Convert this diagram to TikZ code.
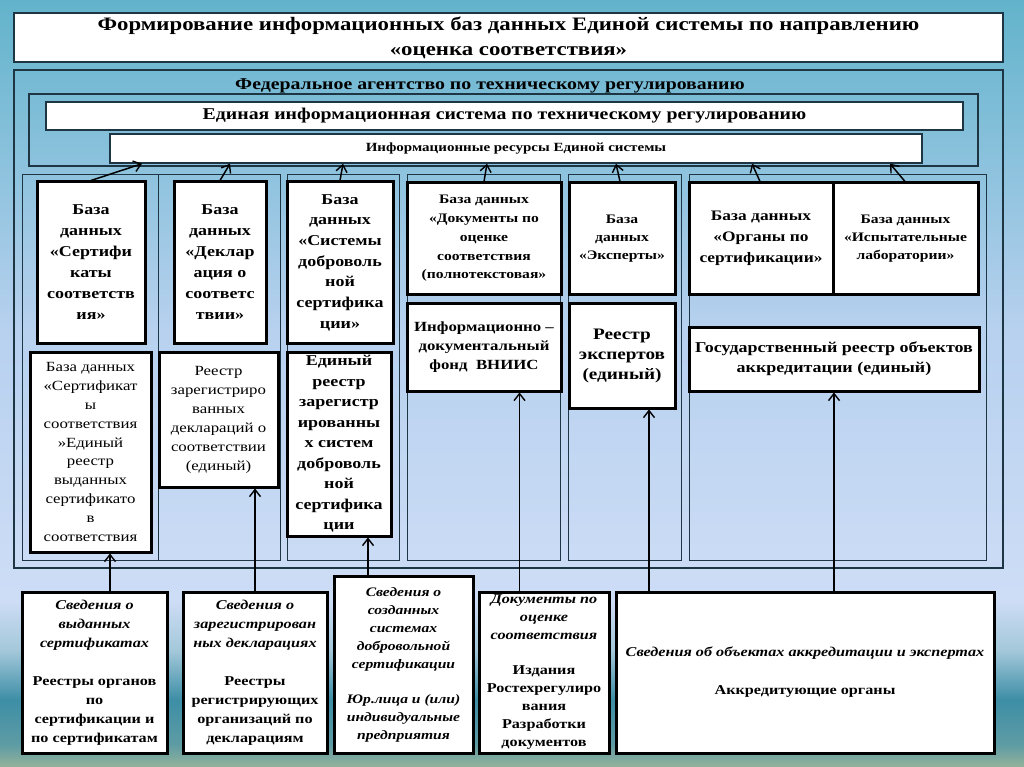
\documentclass[tikz,border=0pt]{standalone}
\usepackage{fontspec}
\setmainfont{Liberation Serif}[FakeStretch=1.2]
\usetikzlibrary{arrows.meta}
\definecolor{framecol}{HTML}{1E3544}
\definecolor{bgA}{HTML}{62B3CB}
\definecolor{bgB}{HTML}{B7D1EF}
\definecolor{bgC}{HTML}{CEDDF6}
\definecolor{bgD}{HTML}{A4C8DA}
\definecolor{bgE}{HTML}{3D8EA6}
\definecolor{bgF}{HTML}{5F9CA4}
\definecolor{bgG}{HTML}{93B39A}
\newcommand\fsz[2]{\fontsize{#1}{#2}\selectfont}
\tikzset{
  tbox/.style={draw=black, line width=3pt, fill=white, align=center, inner sep=0pt, font=\bfseries},
  wbox/.style={draw=framecol, line width=1.4pt, fill=white, align=center, inner sep=0pt, font=\bfseries},
  frame/.style={draw=framecol, line width=1.3pt},
  cframe/.style={draw=framecol, line width=1pt},
  arr/.style={line width=1.5pt, -{Straight Barb[length=7pt,width=11pt,line width=1.4pt]}},
}
\begin{document}
\begin{tikzpicture}[x=1pt,y=-1pt]
\useasboundingbox (0,0) rectangle (1024,767);
% background
\shade[top color=bgA, bottom color=bgB] (0,0) rectangle (1024,330);
\shade[top color=bgB, bottom color=bgC] (0,330) rectangle (1024,600);
\shade[top color=bgC, bottom color=bgD] (0,600) rectangle (1024,650);
\shade[top color=bgD, bottom color=bgE] (0,650) rectangle (1024,700);
\shade[top color=bgE, bottom color=bgF] (0,700) rectangle (1024,745);
\shade[top color=bgF, bottom color=bgG] (0,745) rectangle (1024,767);

% title
\node[wbox, minimum width=989pt, minimum height=49pt, font=\bfseries\fsz{19}{25}] (title) at (508.5,37.5)
  {Формирование информационных баз данных Единой системы по направлению\\«оценка соответствия»};

% frames
\draw[frame] (14,70) rectangle (1003,568);
\node[font=\bfseries\fsz{16.5}{18}] (fed) at (490,86) {Федеральное агентство по техническому регулированию};
\draw[frame] (29,94) rectangle (978,166);
\node[wbox, minimum width=917pt, minimum height=28pt, font=\bfseries\fsz{16.5}{18}] (eis) at (504.5,116)
  {Единая информационная система по техническому регулированию};
\node[wbox, minimum width=812pt, minimum height=29pt, font=\bfseries\fsz{12.5}{14}] (ir) at (516,148.5)
  {Информационные ресурсы Единой системы};

\draw[cframe] (22,175) rectangle (158,560);
\draw[cframe] (158,175) rectangle (280,560);
\draw[cframe] (287,175) rectangle (399,560);
\draw[cframe] (407,175) rectangle (560,560);
\draw[cframe] (568,175) rectangle (681,560);
\draw[cframe] (689,175) rectangle (986,560);

% row 1
\node[tbox, minimum width=108pt, minimum height=161pt, font=\bfseries\fsz{15}{21}] (b1) at (91,262.5)
  {База\\данных\\«Сертифи\\каты\\соответств\\ия»};
\node[tbox, minimum width=92pt, minimum height=161pt, font=\bfseries\fsz{15}{21}] (b2) at (220,262.5)
  {База\\данных\\«Деклар\\ация о\\соответс\\твии»};
\node[tbox, minimum width=106pt, minimum height=161pt, font=\bfseries\fsz{15}{20.7}] (b3) at (340,262.5)
  {База\\данных\\«Системы\\доброволь\\ной\\сертифика\\ции»};
\node[tbox, minimum width=154pt, minimum height=111pt, font=\bfseries\fsz{13}{18.7}] (b4) at (484,238.5)
  {База данных\\«Документы по\\оценке\\соответствия\\(полнотекстовая»};
\node[tbox, minimum width=106pt, minimum height=111pt, font=\bfseries\fsz{13}{18.3}] (b5) at (622,238.5)
  {База\\данных\\«Эксперты»};
\node[tbox, minimum width=144pt, minimum height=111pt, font=\bfseries\fsz{14.5}{21}] (b6) at (761,238.5)
  {База данных\\«Органы по\\сертификации»};
\node[tbox, minimum width=145pt, minimum height=111pt, font=\bfseries\fsz{13}{18.3}] (b7) at (905.5,238.5)
  {База данных\\«Испытательные\\лаборатории»};

% row 2
\node[tbox, minimum width=121pt, minimum height=200pt, font=\mdseries\fsz{14}{18.9}] (c1) at (90.5,452)
  {База данных\\«Сертификат\\ы\\соответствия\\»Единый\\реестр\\выданных\\сертификато\\в\\соответствия};
\node[tbox, minimum width=119pt, minimum height=135pt, font=\mdseries\fsz{14}{19}] (c2) at (218.5,419.5)
  {Реестр\\зарегистриро\\ванных\\деклараций о\\соответствии\\(единый)};
\node[tbox, minimum width=104pt, minimum height=184pt, font=\bfseries\fsz{15}{20.5}] (c3) at (339,444)
  {Единый\\реестр\\зарегистр\\ированны\\х систем\\доброволь\\ной\\сертифика\\ции};
\node[tbox, minimum width=154pt, minimum height=88pt, font=\bfseries\fsz{14}{19}] (c4) at (484,347)
  {Информационно –\\документальный\\фонд~~ВНИИС};
\node[tbox, minimum width=106pt, minimum height=105pt, font=\bfseries\fsz{16}{20}] (c5) at (622,355.5)
  {Реестр\\экспертов\\(единый)};
\node[tbox, minimum width=290pt, minimum height=64pt, font=\bfseries\fsz{15}{20}] (c6) at (834,359)
  {Государственный реестр объектов\\аккредитации (единый)};

% bottom sources
\node[tbox, minimum width=145pt, minimum height=161pt, font=\bfseries\fsz{13.5}{19}] (d1) at (94.5,672.5)
  {\textit{Сведения о}\\\textit{выданных}\\\textit{сертификатах}\\[19pt]Реестры органов\\по\\сертификации и\\по сертификатам};
\node[tbox, minimum width=144pt, minimum height=161pt, font=\bfseries\fsz{13.5}{19}] (d2) at (255,672.5)
  {\textit{Сведения о}\\\textit{зарегистрирован}\\\textit{ных декларациях}\\[19pt]Реестры\\регистрирующих\\организаций по\\декларациям};
\node[tbox, minimum width=139pt, minimum height=177pt, font=\bfseries\itshape\fsz{13}{18}] (d3) at (403.5,664.5)
  {Сведения о\\созданных\\системах\\добровольной\\сертификации\\[17pt]Юр.лица и (или)\\индивидуальные\\предприятия};
\node[tbox, minimum width=130pt, minimum height=161pt, font=\bfseries\fsz{13.5}{18}] (d4) at (544,672.5)
  {\textit{Документы по}\\\textit{оценке}\\\textit{соответствия}\\[17pt]Издания\\Ростехрегулиро\\вания\\Разработки\\документов};
\node[tbox, minimum width=378pt, minimum height=161pt, font=\bfseries\fsz{13.5}{19}] (d5) at (805,672.5)
  {\textit{Сведения об объектах аккредитации и экспертах}\\[19pt]Аккредитующие органы};

% arrows to information resources
\draw[arr] (b1.north) -- ([xshift=-374pt]ir.south);
\draw[arr] (b2.north) -- ([xshift=-286pt]ir.south);
\draw[arr] (b3.north) -- ([xshift=-173pt]ir.south);
\draw[arr] (b4.north) -- ([xshift=-29pt]ir.south);
\draw[arr] ([xshift=-2pt]b5.north) -- ([xshift=100pt]ir.south);
\draw[arr] ([xshift=-1pt]b6.north) -- ([xshift=236pt]ir.south);
\draw[arr] ([xshift=-0.5pt]b7.north) -- ([xshift=374pt]ir.south);

% arrows from sources to registers
\draw[arr] ([xshift=15.5pt]d1.north) -- ([xshift=15.5pt]d1.north |- c1.south);
\draw[arr] (d2.north) -- (d2.north |- c2.south);
\draw[arr] ([xshift=-35.5pt]d3.north) -- ([xshift=-35.5pt]d3.north |- c3.south);
\draw[arr] ([xshift=-24.5pt]d4.north) -- ([xshift=-24.5pt]d4.north |- c4.south);
\draw[arr] ([xshift=-156pt]d5.north) -- ([xshift=-156pt]d5.north |- c5.south);
\draw[arr] ([xshift=29pt]d5.north) -- ([xshift=29pt]d5.north |- c6.south);
\end{tikzpicture}
\end{document}
